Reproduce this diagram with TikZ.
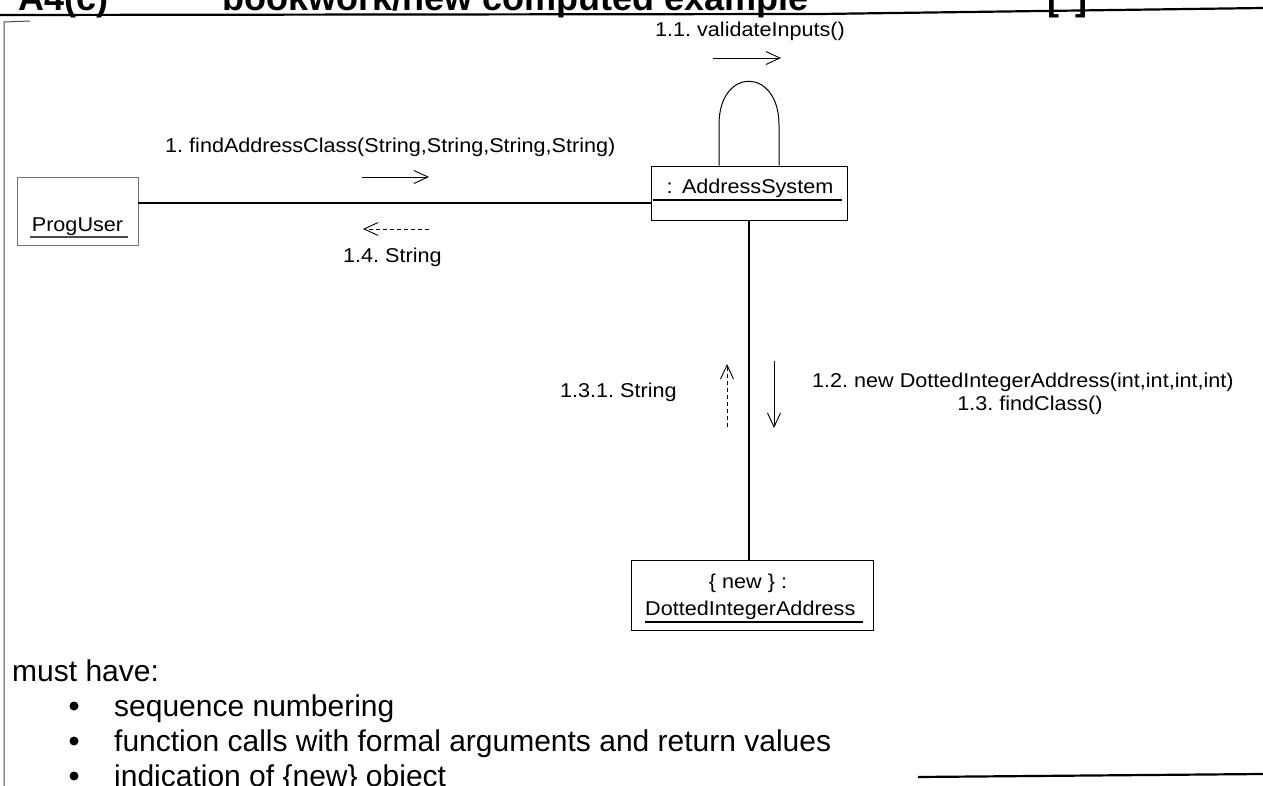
\documentclass[tikz,border=0pt]{standalone}
\usepackage{fontspec}
\setmainfont{Liberation Sans}
\newfontfamily\lblfont[FakeStretch=1.08]{Liberation Sans}
\usetikzlibrary{arrows.meta}
\frenchspacing
\begin{document}
\begin{tikzpicture}[x=1pt,y=-1pt,
  lbl/.style={inner sep=0pt, font=\lblfont\fontsize{20}{24}\selectfont},
  body/.style={inner sep=0pt, font=\fontsize{30}{34}\selectfont},
  head/.style={inner sep=0pt, font=\bfseries\fontsize{36}{40}\selectfont},
  objbox/.style={draw=black, line width=0.9pt, inner sep=0pt},
  link/.style={line width=1.2pt},
  uline/.style={line width=1.1pt},
  msg/.style={line width=0.9pt, -{Straight Barb[length=14pt,width=13pt,line width=0.9pt]}},
  ret/.style={msg, dash pattern=on 4pt off 3pt},
  rule/.style={line width=2.2pt},
  bullet/.style={circle, fill=black, inner sep=0pt, minimum size=9pt}]
\useasboundingbox (0,0) rectangle (1263,786);
\clip (0,0) rectangle (1263,786);

% page heading, cut by the top edge
\node[head, anchor=base west] (hnum) at (18,11) {A4(c)};
\node[head, anchor=base west] (htitle) at (222,11) {bookwork/new computed example};
\node[head, anchor=base west] (hmark) at (1047,11) {[\hspace{16pt}]};
\draw[rule] (0,15) -- (820,14) -- (1263,8);

% answer frame
\draw[line width=1pt, black!70] (4,786) -- (4,22) -- (30,21);
\draw[rule] (918,777) -- (1263,774);

% objects
\node[objbox, draw=black!55, minimum width=121, minimum height=68] (pu) at (77.5,211) {};
\node[lbl, anchor=base] (puname) at (77.5,232) {ProgUser};
\draw[uline, black!70] (30,237) -- (128,237);

\node[objbox, minimum width=196, minimum height=54] (as) at (749,193) {};
\node[lbl, anchor=base] (asname) at (750,194) {:\, AddressSystem};
\draw[uline] (653,200) -- (842,200);

\node[objbox, minimum width=242, minimum height=70] (dia) at (752,595) {};
\node[lbl, anchor=base] (dianew) at (748,588) {\{ new \} :};
\node[lbl, anchor=base west] (dianame) at (645,615) {DottedIntegerAddress};
\draw[uline] (645,622) -- (863,622);

% links between the objects
\coordinate (hy) at (0,203);
\draw[link] (pu.east |- hy) -- (as.west |- hy);
\draw[link] (as.south) -- (as.south |- dia.north);
\draw[line width=1pt] ([xshift=-30pt]as.north) -- ++(0,-41)
  .. controls +(0,-58) and +(0,-58) .. ([xshift=30pt]as.north |- 0,125)
  -- ([xshift=30pt]as.north);

% messages
\node[lbl, anchor=base west] (m1) at (165,153) {1. findAddressClass(String,String,String,String)};
\coordinate (m1a) at (362,177); \coordinate (m1b) at (429,177);
\draw[msg] (m1a) -- (m1b);

\node[lbl, anchor=base west] (m14) at (343,262) {1.4. String};
\coordinate (m14a) at (429,229); \coordinate (m14b) at (363,229);
\draw[ret] (m14a) -- (m14b);

\node[lbl, anchor=base] (m11) at (750,37) {1.1. validateInputs()};
\coordinate (m11a) at (713,58); \coordinate (m11b) at (781,58);
\draw[msg] (m11a) -- (m11b);

\node[lbl, anchor=base west] (m131) at (560,397) {1.3.1. String};
\coordinate (m131a) at (727,427); \coordinate (m131b) at (727,364);
\draw[ret] (m131a) -- (m131b);

\node[lbl, anchor=base west] (m12) at (812,387) {1.2. new DottedIntegerAddress(int,int,int,int)};
\node[lbl, anchor=base] (m13) at (1030,410) {1.3. findClass()};
\coordinate (m12a) at (774,361); \coordinate (m12b) at (774,428);
\draw[msg] (m12a) -- (m12b);

% marking notes
\node[body, anchor=base west] (must) at (12,681) {must have:};
\node[bullet] (b1) at (74,706) {};
\node[body, anchor=base west] (t1) at (114,716) {sequence numbering};
\node[bullet] (b2) at (74,741) {};
\node[body, anchor=base west] (t2) at (114,751) {function calls with formal arguments and return values};
\node[bullet] (b3) at (74,776) {};
\node[body, anchor=base west] (t3) at (114,786) {indication of \{new\} object};
\end{tikzpicture}
\end{document}
